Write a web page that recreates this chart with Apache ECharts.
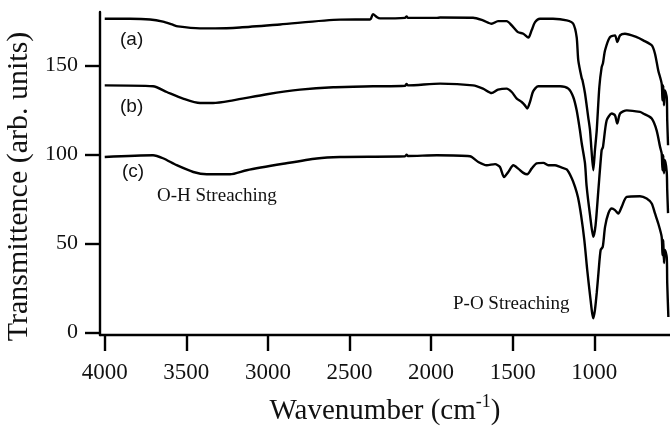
<!DOCTYPE html>
<html>
<head>
<meta charset="utf-8">
<script src="https://cdn.jsdelivr.net/npm/echarts@6/dist/echarts.min.js"></script>
<style>
html,body{margin:0;padding:0;background:#fff;}
#chart{width:670px;height:426px;}
</style>
</head>
<body>
<div id="chart"></div>
<script>
// Wavenumber (cm-1) and transmittance values, curve (a)
var waveA = [4000,3845,3722,3643,3588,3551,3416,3324,3171,2926,2558,2374,2356,2331,2313,2160,2150,2142,1964,1945,1743,1682,1629,1590,1537,1506,1468,1435,1404,1384,1363,1333,1253,1169,1129,1108,1098,1077,1072,1057,1037,1026,1017,1006,996,985,969,955,947,934,904,873,859,842,812,740,700,648,628,608,587,582,577,573,567,556,553,548];
var transA = [176.2,176.2,175.8,174.6,173.0,171.9,170.8,170.8,171.3,173.0,175.7,175.8,178.8,177.0,176.4,176.7,177.5,176.7,176.7,176.9,176.8,175.3,173.4,174.9,174.9,172.5,168.7,167.8,165.6,169.7,174.3,176.2,176.2,175.3,173.4,165.9,152.9,142.8,141.6,134.4,120.9,113.6,102.4,91.2,102.4,113.6,137.9,148.9,151.2,158.5,165.9,166.9,163.1,166.9,167.8,165.9,164.1,161.3,156.6,147.2,139.8,130.4,138.8,127.6,136.0,132.1,119.2,105.2];

// curve (b)
var waveB = [4000,3704,3620,3520,3416,3336,3214,3006,2803,2600,2356,2160,2150,2142,1945,1743,1682,1629,1590,1537,1506,1475,1445,1425,1411,1394,1374,1343,1210,1159,1129,1108,1088,1077,1057,1047,1026,1006,992,975,955,947,924,893,873,859,842,801,720,700,648,618,597,587,582,577,573,567,556,553,548];
var transB = [138.8,138.3,135.1,131.4,128.9,128.9,130.4,133.8,136.4,137.8,138.3,138.6,139.6,138.8,139.8,138.8,137.0,134.5,136.4,137.0,135.1,131.4,129.5,127.6,125.8,129.5,135.6,138.3,138.3,137.0,132.3,124.8,113.6,106.3,95.1,82.2,66.0,53.8,60.4,80.0,102.4,104.1,119.2,123.0,122.0,117.4,123.0,124.8,123.9,123.0,120.2,113.6,104.3,100.6,91.2,99.6,89.5,96.8,90.1,80.0,67.1];

// curve (c)
var waveC = [4000,3704,3643,3559,3457,3375,3232,3130,2907,2701,2558,2160,2150,2142,1964,1762,1711,1659,1608,1578,1553,1527,1496,1466,1435,1411,1384,1353,1312,1282,1241,1210,1169,1138,1118,1100,1081,1061,1043,1026,1014,1006,996,985,974,961,948,934,914,893,873,853,832,801,720,679,648,628,608,587,582,577,573,567,556,553,546];
var transC = [98.6,99.6,97.9,94.0,90.2,88.9,88.9,91.2,94.8,97.8,98.6,99.0,99.9,99.2,99.6,99.0,95.8,94.0,94.6,93.0,87.4,90.2,94.0,92.1,89.7,88.9,92.1,95.0,95.3,94.0,94.0,93.0,91.6,86.7,81.8,76.0,66.0,52.0,35.0,21.0,11.6,8.1,12.7,22.3,34.0,46.4,48.2,59.4,66.9,69.7,68.8,66.9,70.6,76.2,76.6,75.3,72.5,66.9,61.3,53.8,43.6,52.0,39.1,46.4,42.4,27.9,8.8];

var xTicks = [1000,1500,2000,2500,3000,3500,4000];
var yTicks = [0,50,100,150];
var curveLabels = ['(a)','(b)','(c)'];

function pairs(w, t){ return w.map(function(v,i){ return [v, t[i]]; }); }

var SERIF = '"Liberation Serif","Times New Roman",serif';
var SANS = '"Liberation Sans",Arial,sans-serif';

var chart = echarts.init(document.getElementById('chart'), null, {renderer:'canvas'});
var lineStyle = {color:'#000', width:2.4};
function mk(name, w, t){
  return {name:name, type:'line', data:pairs(w,t), showSymbol:false, symbol:'none',
    smooth:0.25, lineStyle:lineStyle, animation:false};
}
function plain(v){ return String(v); }
chart.setOption({
  animation:false,
  backgroundColor:'#fff',
  grid:{left:100, right:0, top:12, bottom:91, containLabel:false, outerBoundsMode:'none'},
  xAxis:{
    type:'value', min:536, max:4029, inverse:true,
    name:'{m|Wavenumber (cm}{s|-1}{m|)}',
    nameLocation:'middle', nameGap:58,
    nameTextStyle:{rich:{
      m:{fontFamily:SERIF, fontSize:29, color:'#111', lineHeight:36, verticalAlign:'middle'},
      s:{fontFamily:SERIF, fontSize:18, color:'#111', lineHeight:18, verticalAlign:'top'}
    }},
    axisLine:{show:true, onZero:false, lineStyle:{color:'#000', width:2.4}},
    axisTick:{show:true, customValues:xTicks, length:16, lineStyle:{color:'#000', width:2.4}},
    axisLabel:{customValues:xTicks, formatter:plain, margin:26, fontFamily:SERIF, fontSize:23, color:'#111'},
    splitLine:{show:false}
  },
  yAxis:{
    type:'value', min:-1.3, max:180,
    name:'Transmittence (arb. units)',
    nameLocation:'middle', nameGap:57,
    nameTextStyle:{fontFamily:SERIF, fontSize:30, color:'#111', padding:[0,26,0,0]},
    axisLine:{show:true, onZero:false, lineStyle:{color:'#000', width:2.4}},
    axisTick:{show:true, customValues:yTicks, length:15, lineStyle:{color:'#000', width:2.4}},
    axisLabel:{customValues:yTicks, formatter:plain, margin:22, fontFamily:SERIF, fontSize:22, color:'#111'},
    splitLine:{show:false}
  },
  graphic:[
    {type:'text', left:120, top:30, style:{text:curveLabels[0], font:'19px '+SANS, fill:'#111'}},
    {type:'text', left:120, top:97, style:{text:curveLabels[1], font:'19px '+SANS, fill:'#111'}},
    {type:'text', left:122, top:162, style:{text:curveLabels[2], font:'19px '+SANS, fill:'#111'}},
    {type:'text', left:157, top:187, style:{text:'O-H Streaching', font:'19px '+SERIF, fill:'#111'}},
    {type:'text', left:453, top:295, style:{text:'P-O Streaching', font:'19px '+SERIF, fill:'#111'}}
  ],
  series:[ mk('a', waveA, transA), mk('b', waveB, transB), mk('c', waveC, transC) ]
});
</script>
</body>
</html>
